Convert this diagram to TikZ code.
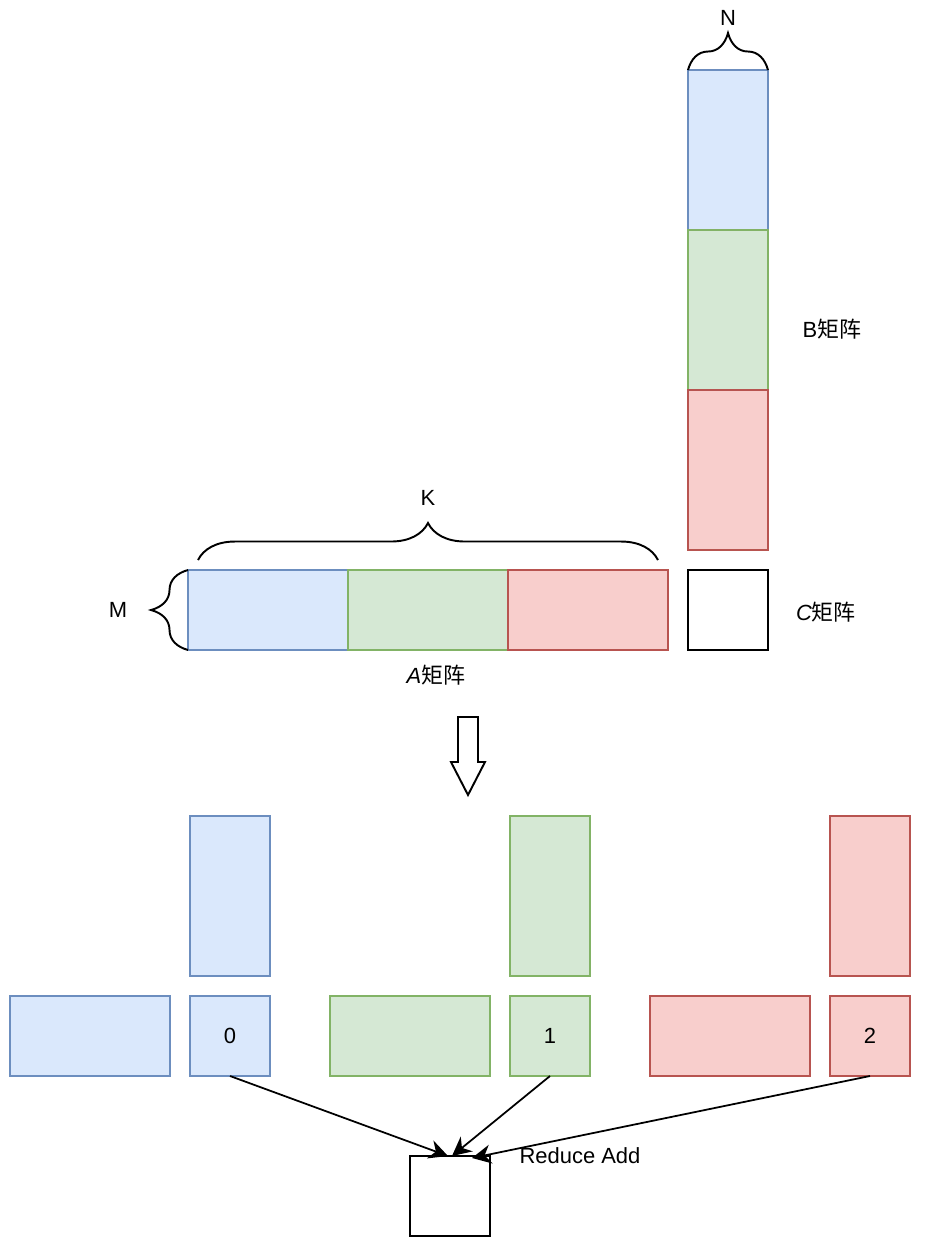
\documentclass[tikz,border=0pt]{standalone}
\usepackage{fontspec}
\setmainfont{Liberation Sans}
\newfontfamily\cjk{Noto Sans CJK SC}
\usetikzlibrary{decorations.pathreplacing,arrows.meta}

\definecolor{bfill}{HTML}{DAE8FC}\definecolor{bline}{HTML}{6C8EBF}
\definecolor{gfill}{HTML}{D5E8D4}\definecolor{gline}{HTML}{82B366}
\definecolor{rfill}{HTML}{F8CECC}\definecolor{rline}{HTML}{B85450}

\newcommand{\MatText}[2]{{\itshape #1}{\cjk #2}}

\tikzset{
  cell/.style={draw, inner sep=0pt, outer sep=0pt, line width=0.8pt},
  bluecell/.style={cell, fill=bfill, draw=bline},
  greencell/.style={cell, fill=gfill, draw=gline},
  redcell/.style={cell, fill=rfill, draw=rline},
  sq/.style={minimum width=1.6cm, minimum height=1.6cm},
  wide/.style={minimum width=3.2cm, minimum height=1.6cm},
  tall/.style={minimum width=1.6cm, minimum height=3.2cm},
  lbl/.style={font=\fontsize{12.5}{15}\selectfont, inner sep=0pt},
  brc/.style={decorate, decoration={brace, amplitude=0.74cm}, line width=1.1pt},
  sum/.style={-{Stealth[length=3.8mm,width=3.8mm]}, line width=1pt}
}

\begin{document}
\begin{tikzpicture}[x=0.02cm, y=-0.02cm]
    \useasboundingbox (0,0) rectangle (935,1242);
    % B matrix
    \node[bluecell,tall]  (b0) at (728,150) {};
    \node[greencell,tall] (b1) at (728,310) {};
    \node[redcell,tall]   (b2) at (728,470) {};
    % A matrix
    \node[bluecell,wide]  (a0) at (268,610) {};
    \node[greencell,wide] (a1) at (428,610) {};
    \node[redcell,wide]   (a2) at (588,610) {};
    % C matrix
    \node[cell,sq,line width=1.1pt] (c) at (728,610) {};
    %
    \draw[brc] ([xshift=0.2cm,yshift=0.2cm]a0.north west) -- ([xshift=-0.2cm,yshift=0.2cm]a2.north east);
    \draw[brc] (b0.north west) -- (b0.north east);
    \draw[brc] (a0.south west) -- (a0.north west);
    \node[lbl] (kl) at (428,498) {K};
    \node[lbl] (nl) at (728,18) {N};
    \node[lbl] (ml) at (118,610) {M};
    \node[lbl] (bl) at (832,329) {B{\cjk 矩阵}};
    \node[lbl] (cl) at (826,612) {\MatText{C}{矩阵}};
    \node[lbl] (al) at (436,675) {\MatText{A}{矩阵}};
    %
    \draw[line width=1.1pt, line join=miter] (458,717) -- (478,717) -- (478,762) -- (485,762)
      -- (468,795) -- (451,762) -- (458,762) -- cycle;
    % split
    \node[bluecell,tall]  (p0) at (230,896) {};
    \node[greencell,tall] (p1) at (550,896) {};
    \node[redcell,tall]   (p2) at (870,896) {};
    \node[bluecell,wide]  (q0) at (90,1036) {};
    \node[greencell,wide] (q1) at (410,1036) {};
    \node[redcell,wide]   (q2) at (730,1036) {};
    \node[bluecell,sq,lbl]  (s0) at (230,1036) {0};
    \node[greencell,sq,lbl] (s1) at (550,1036) {1};
    \node[redcell,sq,lbl]   (s2) at (870,1036) {2};
    %
    \node[cell,sq,line width=1.1pt] (res) at (450,1196) {};
    \coordinate (t0) at (448,1156);
    \coordinate (t1) at (452,1156);
    \coordinate (t2) at (472,1158);
    \draw[sum] (s0.south) -- (t0);
    \draw[sum] (s1.south) -- (t1);
    \draw[sum] (s2.south) -- (t2);
    \node[lbl] (rl) at (580,1156) {Reduce Add};
  \end{tikzpicture}
\end{document}
